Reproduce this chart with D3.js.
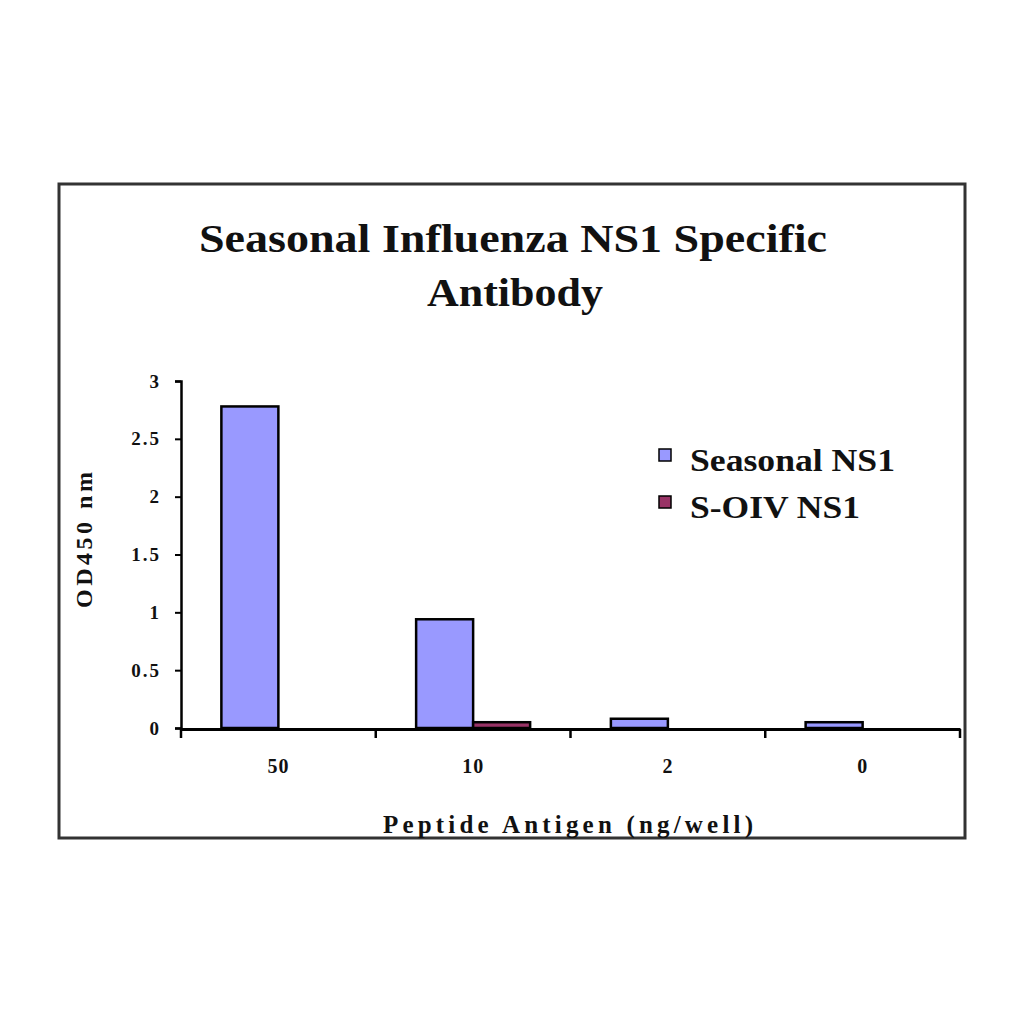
<!DOCTYPE html>
<html>
<head>
<meta charset="utf-8">
<script src="https://cdn.jsdelivr.net/npm/d3@7"></script>
<style>
  body { margin: 0; background: #fff; }
  text { font-family: "Liberation Serif", "DejaVu Serif", serif; font-weight: bold; fill: #111; }
</style>
</head>
<body>
<div id="chart-area"></div>
<script>
// data
var categories = ["50", "10", "2", "0"];
var seriesNames = ["Seasonal NS1", "S-OIV NS1"];
var seasonal = [2.78, 0.94, 0.08, 0.05];
var soiv = [0, 0.05, 0, 0];
var yTicks = [0, 0.5, 1, 1.5, 2, 2.5, 3];
var colors = ["#9999ff", "#993366"];

var width = 1024;
var height = 1024;

var svg = d3.select("#chart-area").append("svg")
.attr("width", width)
.attr("height", height)

// outer frame
svg.append("rect")
.attr("x", 59)
.attr("y", 184)
.attr("width", 906)
.attr("height", 654)
.attr("fill", "none")
.attr("stroke", "#333")
.attr("stroke-width", 3)

// title
svg.append("text")
.attr("x", 513)
.attr("y", 252)
.attr("text-anchor", "middle")
.attr("font-size", "40px")
.attr("textLength", 628)
.attr("lengthAdjust", "spacingAndGlyphs")
.text("Seasonal Influenza NS1 Specific")

svg.append("text")
.attr("x", 515)
.attr("y", 306)
.attr("text-anchor", "middle")
.attr("font-size", "40px")
.attr("textLength", 176)
.attr("lengthAdjust", "spacingAndGlyphs")
.text("Antibody")

var x = d3.scaleBand()
.domain(categories)
.range([181, 960])
.padding(0)

var xs = d3.scaleBand()
.domain(seriesNames)
.range([x.bandwidth() / 2 - 57, x.bandwidth() / 2 + 57])

var y = d3.scaleLinear()
.domain([0, 3])
.range([728, 381])

var data = categories.map((c, i) => ({cat: c, values: [seasonal[i], soiv[i]]}))

// bars
var groups = svg.selectAll("g.cat")
.data(data)
.enter().append("g")
.attr("class", "cat")
.attr("transform", d => "translate(" + x(d.cat) + ",0)")

groups.selectAll("rect")
.data(d => d.values.map((v, j) => ({name: seriesNames[j], value: v, j: j})))
.enter().append("rect")
.attr("x", d => xs(d.name))
.attr("y", d => y(d.value))
.attr("width", xs.bandwidth())
.attr("height", d => y(0) - y(d.value))
.attr("fill", d => colors[d.j])
.attr("stroke", d => d.value > 0 ? "#000" : "none")
.attr("stroke-width", 2.5)

// y axis
var yAxisCall = d3.axisLeft(y).tickValues(yTicks).tickSize(6).tickPadding(14)
.tickFormat(d => d === 0 ? "0" : (d % 1 === 0 ? d3.format("d")(d) : d3.format(".1f")(d)))

var yAxisGroup = svg.append("g")
.attr("transform", "translate(181,0)")
.call(yAxisCall)

yAxisGroup.select(".domain").attr("stroke", "#000").attr("stroke-width", 2.5)
yAxisGroup.selectAll(".tick line").attr("stroke", "#000").attr("stroke-width", 2)
yAxisGroup.selectAll(".tick text")
.attr("font-size", "19px")
.attr("font-family", "Liberation Serif, serif")
.attr("font-weight", "bold")
.attr("letter-spacing", "2px")

// x axis
var xAxisCall = d3.axisBottom(x).tickSize(0).tickPadding(30)
var xAxisGroup = svg.append("g")
.attr("transform", "translate(0,729)")
.call(xAxisCall)

xAxisGroup.select(".domain").attr("stroke", "#000").attr("stroke-width", 3)
xAxisGroup.selectAll(".tick text")
.attr("font-size", "20px")
.attr("font-family", "Liberation Serif, serif")
.attr("font-weight", "bold")
.attr("letter-spacing", "1px")

// category separators
var bounds = categories.map(c => x(c)).concat([x.range()[1]])
svg.selectAll("line.sep")
.data(bounds)
.enter().append("line")
.attr("class", "sep")
.attr("x1", d => d)
.attr("x2", d => d)
.attr("y1", 729)
.attr("y2", 738)
.attr("stroke", "#000")
.attr("stroke-width", 2.5)

// axis labels
svg.append("text")
.attr("x", 568)
.attr("y", 833)
.attr("text-anchor", "middle")
.attr("font-size", "25px")
.attr("textLength", 370)
.attr("lengthAdjust", "spacing")
.text("Peptide Antigen (ng/well)")

svg.append("text")
.attr("transform", "translate(92,540) rotate(-90)")
.attr("text-anchor", "middle")
.attr("font-size", "24px")
.attr("textLength", 136)
.attr("lengthAdjust", "spacing")
.text("OD450 nm")

// legend
var legend = svg.append("g")
.attr("transform", "translate(659,449)")

seriesNames.forEach((name, i) => {
	var row = legend.append("g")
	.attr("transform", "translate(0," + (i * 47) + ")")

	row.append("rect")
	.attr("width", 12)
	.attr("height", 12)
	.attr("fill", colors[i])
	.attr("stroke", "#000")
	.attr("stroke-width", 1.5)

	row.append("text")
	.attr("x", 31)
	.attr("y", 22)
	.attr("font-size", "31px")
	.attr("textLength", i === 0 ? 205 : 170)
	.attr("lengthAdjust", "spacingAndGlyphs")
	.text(name)
})
</script>
</body>
</html>
